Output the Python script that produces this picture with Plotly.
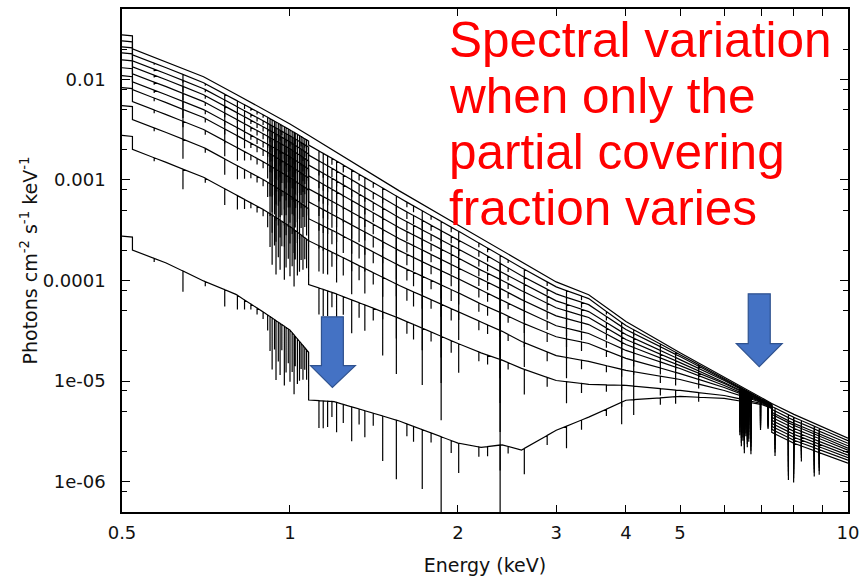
import numpy as np
import plotly.graph_objects as go

# ---------------- data ----------------
# partial covering fraction of each model curve (top -> bottom)
COVER = [0.0, 0.1, 0.2, 0.3, 0.4, 0.5, 0.6, 0.7, 0.8, 0.9, 0.99]
LINE_WEIGHT = [0.0, 0.45, 0.6, 0.7, 0.77, 0.83, 0.88, 0.92, 0.95, 0.97, 0.99]

# continuum knot energies (keV); repeated energies are edges (vertical steps)
E_KNOTS = [0.5, 0.522, 0.522, 0.6, 0.7, 0.8, 0.9, 1.0, 1.08, 1.08, 1.2, 1.57,
           2.0, 2.2, 2.4, 2.6, 3.0, 3.43, 4.0, 5.0, 6.0, 7.0, 7.3, 7.3, 8.0, 10.0]

# log10 of the continuum flux (photons cm^-2 s^-1 keV^-1) of each curve at the knots
LOGF_C00 = [-1.558, -1.568, -1.697, -1.826, -1.974, -2.148, -2.301, -2.444, -2.555, -2.555,
            -2.709, -3.109, -3.448, -3.580, -3.702, -3.814, -4.014, -4.141, -4.408, -4.717,
            -4.964, -5.172, -5.222, -5.222, -5.331, -5.568]
LOGF_C10 = [-1.618, -1.628, -1.757, -1.885, -2.034, -2.207, -2.360, -2.503, -2.614, -2.654,
            -2.798, -3.178, -3.507, -3.640, -3.761, -3.873, -4.063, -4.180, -4.448, -4.737,
            -4.974, -5.177, -5.227, -5.252, -5.360, -5.593]
LOGF_C20 = [-1.677, -1.687, -1.816, -1.945, -2.093, -2.266, -2.420, -2.562, -2.673, -2.753,
            -2.897, -3.277, -3.596, -3.719, -3.841, -3.953, -4.133, -4.240, -4.487, -4.756,
            -4.984, -5.182, -5.232, -5.281, -5.390, -5.618]
LOGF_C30 = [-1.737, -1.747, -1.875, -2.004, -2.153, -2.326, -2.479, -2.622, -2.743, -2.852,
            -2.996, -3.376, -3.685, -3.808, -3.920, -4.022, -4.202, -4.309, -4.537, -4.786,
            -4.994, -5.187, -5.237, -5.311, -5.420, -5.643]
LOGF_C40 = [-1.806, -1.816, -1.945, -2.073, -2.222, -2.395, -2.549, -2.691, -2.812, -2.960,
            -3.105, -3.475, -3.774, -3.897, -3.999, -4.101, -4.271, -4.368, -4.586, -4.816,
            -5.014, -5.192, -5.242, -5.331, -5.440, -5.667]
LOGF_C50 = [-1.885, -1.895, -2.024, -2.153, -2.301, -2.474, -2.628, -2.770, -2.891, -3.089,
            -3.224, -3.584, -3.873, -3.986, -4.088, -4.190, -4.351, -4.438, -4.636, -4.846,
            -5.024, -5.197, -5.247, -5.360, -5.469, -5.687]
LOGF_C60 = [-1.964, -1.974, -2.103, -2.232, -2.380, -2.554, -2.707, -2.859, -2.980, -3.218,
            -3.353, -3.703, -3.982, -4.095, -4.197, -4.289, -4.450, -4.527, -4.695, -4.875,
            -5.044, -5.202, -5.252, -5.390, -5.499, -5.712]
LOGF_C70 = [-2.083, -2.093, -2.222, -2.351, -2.499, -2.672, -2.826, -2.978, -3.099, -3.386,
            -3.511, -3.852, -4.121, -4.234, -4.326, -4.418, -4.559, -4.626, -4.774, -4.925,
            -5.063, -5.207, -5.257, -5.420, -5.529, -5.737]
LOGF_C80 = [-2.261, -2.271, -2.400, -2.529, -2.677, -2.851, -3.004, -3.157, -3.287, -3.604,
            -3.729, -4.050, -4.309, -4.412, -4.504, -4.606, -4.747, -4.804, -4.893, -4.984,
            -5.093, -5.212, -5.261, -5.450, -5.558, -5.761]
LOGF_C90 = [-2.558, -2.568, -2.697, -2.826, -2.974, -3.148, -3.301, -3.463, -3.604, -4.040,
            -4.125, -4.376, -4.626, -4.719, -4.791, -4.873, -4.994, -5.032, -5.042, -5.093,
            -5.143, -5.222, -5.266, -5.479, -5.588, -5.786]
LOGF_C99 = [-3.558, -3.568, -3.697, -3.826, -4.004, -4.138, -4.321, -4.493, -4.713, -5.188,
            -5.204, -5.396, -5.616, -5.659, -5.633, -5.685, -5.489, -5.358, -5.190, -5.152,
            -5.172, -5.232, -5.271, -5.509, -5.618, -5.816]
CURVES = [LOGF_C00, LOGF_C10, LOGF_C20, LOGF_C30, LOGF_C40, LOGF_C50,
          LOGF_C60, LOGF_C70, LOGF_C80, LOGF_C90, LOGF_C99]

# absorption lines: energy (keV) and residual transmission at line centre
LINE_E = [0.571, 0.643, 0.705, 0.764, 0.805, 0.829, 0.851, 0.873, 0.895, 0.912,
          0.921, 0.929, 0.938, 0.944, 0.953, 0.960, 0.967, 0.977, 0.984, 0.993,
          1.000, 1.009, 1.017, 1.022, 1.031, 1.040, 1.047, 1.055, 1.063, 1.071,
          1.127, 1.147, 1.168, 1.189, 1.212, 1.246, 1.290, 1.330, 1.362, 1.410,
          1.466, 1.551, 1.620, 1.665, 1.726, 1.790, 1.866, 1.945, 2.006, 2.180,
          2.260, 2.380, 2.460, 2.630, 2.890, 3.130, 3.330, 3.690, 3.930, 4.130,
          4.610, 4.910, 5.400, 6.400, 6.440, 6.480, 6.520, 6.560, 6.600, 6.640,
          6.680, 6.700, 6.970, 7.190, 7.400, 7.820, 7.990, 8.250, 8.700, 8.880]
LINE_T = [0.92, 0.62, 0.90, 0.68, 0.72, 0.80, 0.88, 0.86, 0.85, 0.70,
          0.45, 0.30, 0.50, 0.25, 0.40, 0.30, 0.55, 0.25, 0.35, 0.45,
          0.30, 0.40, 0.25, 0.50, 0.35, 0.40, 0.55, 0.45, 0.60, 0.50,
          0.53, 0.53, 0.55, 0.70, 0.50, 0.65, 0.45, 0.70, 0.54, 0.75,
          0.35, 0.25, 0.75, 0.70, 0.25, 0.80, 0.12, 0.75, 0.50, 0.80,
          0.80, 0.05, 0.85, 0.55, 0.80, 0.60, 0.80, 0.85, 0.60, 0.70,
          0.85, 0.85, 0.90, 0.45, 0.35, 0.40, 0.30, 0.45, 0.35, 0.40,
          0.50, 0.30, 0.55, 0.60, 0.60, 0.40, 0.40, 0.70, 0.55, 0.60]

X_TICKS = [0.5, 1, 2, 3, 4, 5, 10]
X_TICKTEXT = ['0.5', '1', '2', '3', '4', '5', '10']
X_MINOR = [6, 7, 8, 9]
Y_TICKS = [1e-6, 1e-5, 1e-4, 1e-3, 1e-2]
Y_TICKTEXT = ['1e-06', '1e-05', '0.0001', '0.001', '0.01']
Y_MINOR = [8e-7, 2e-6, 5e-6, 8e-6, 2e-5, 5e-5, 8e-5, 2e-4, 5e-4, 8e-4,
           2e-3, 5e-3, 8e-3, 2e-2]

NOTE_LINES = ['Spectral variation', 'when only the', 'partial covering', 'fraction varies']

# ---------------- figure ----------------
fig = go.Figure()
logE_k = np.log10(E_KNOTS)
for w, logF_k in zip(LINE_WEIGHT, CURVES):
    pts = [(e, lf) for e, lf in zip(E_KNOTS, logF_k)]
    if w > 0:
        for e, t in zip(LINE_E, LINE_T):
            c = float(np.interp(np.log10(e), logE_k, logF_k))
            d = np.log10(max(1 - w * (1 - t), 1e-3))
            pts += [(e, c), (e, c + d), (e, c)]
    pts.sort(key=lambda p: p[0])
    fig.add_trace(go.Scatter(
        x=[p[0] for p in pts], y=[10 ** p[1] for p in pts], mode='lines',
        line=dict(color='#000000', width=1.2), hoverinfo='skip'))

W, H = 866, 582
ML, MR, MT, MB = 122, 16, 7, 70
PW, PH = W - ML - MR, H - MT - MB


def paper(x, y):
    return (x - ML) / PW, (H - MB - y) / PH


def arrow_path(pts):
    s = ''
    for k, (x, y) in enumerate(pts):
        px, py = paper(x, y)
        s += ('M' if k == 0 else 'L') + f'{px:.4f},{py:.4f} '
    return s + 'Z'


ARROWS = [
    [(322, 316), (344, 316), (344, 365), (356, 365), (333, 387), (311, 365), (322, 365)],
    [(750, 293), (772, 293), (772, 343), (784, 343), (761, 366), (738, 343), (750, 343)],
]
for a in ARROWS:
    fig.add_shape(type='path', xref='paper', yref='paper', path=arrow_path(a),
                  fillcolor='#4472C4', line=dict(color='#2F528F', width=1.2))

tick_font = dict(family='DejaVu Sans, Verdana, sans-serif', size=18, color='#111111')
title_font = dict(family='DejaVu Sans, Verdana, sans-serif', size=19, color='#111111')
fig.update_xaxes(type='log', range=[np.log10(0.5), 1.0], tickmode='array',
                 tickvals=X_TICKS, ticktext=X_TICKTEXT, ticks='inside', ticklen=7,
                 tickwidth=1.2, tickcolor='black', showline=True, linecolor='black',
                 linewidth=1.5, mirror='ticks', showgrid=False, zeroline=False,
                 tickfont=tick_font, ticklabelstandoff=4,
                 minor=dict(tickmode='array', tickvals=X_MINOR, ticks='inside',
                            ticklen=7, tickwidth=1.2, tickcolor='black', showgrid=False),
                 title=dict(text='Energy (keV)', font=title_font, standoff=16))
fig.update_yaxes(type='log', range=[np.log10(5e-7), np.log10(0.05)], tickmode='array',
                 tickvals=Y_TICKS, ticktext=Y_TICKTEXT, ticks='inside', ticklen=8,
                 tickwidth=1.2, tickcolor='black', showline=True, linecolor='black',
                 linewidth=1.5, mirror='ticks', showgrid=False, zeroline=False,
                 tickfont=tick_font, ticklabelstandoff=11,
                 minor=dict(tickmode='array', tickvals=Y_MINOR, ticks='inside',
                            ticklen=5, tickwidth=1.2, tickcolor='black', showgrid=False),
                 title=dict(text='Photons cm<sup>-2</sup> s<sup>-1</sup> keV<sup>-1</sup>',
                            font=title_font, standoff=0))

for k, txt in enumerate(NOTE_LINES):
    fig.add_annotation(xref='paper', yref='paper', x=paper(449, 0)[0],
                       y=paper(0, 38 + 56 * k)[1], xanchor='left', yanchor='middle',
                       showarrow=False, text=txt, borderpad=0,
                       font=dict(family='Liberation Sans, Arial, sans-serif', size=49.5,
                                 color='#FF0000'))

fig.update_layout(width=W, height=H, margin=dict(l=ML, r=MR, t=MT, b=MB),
                  plot_bgcolor='white', paper_bgcolor='white', showlegend=False)
fig.write_html('out.html')
